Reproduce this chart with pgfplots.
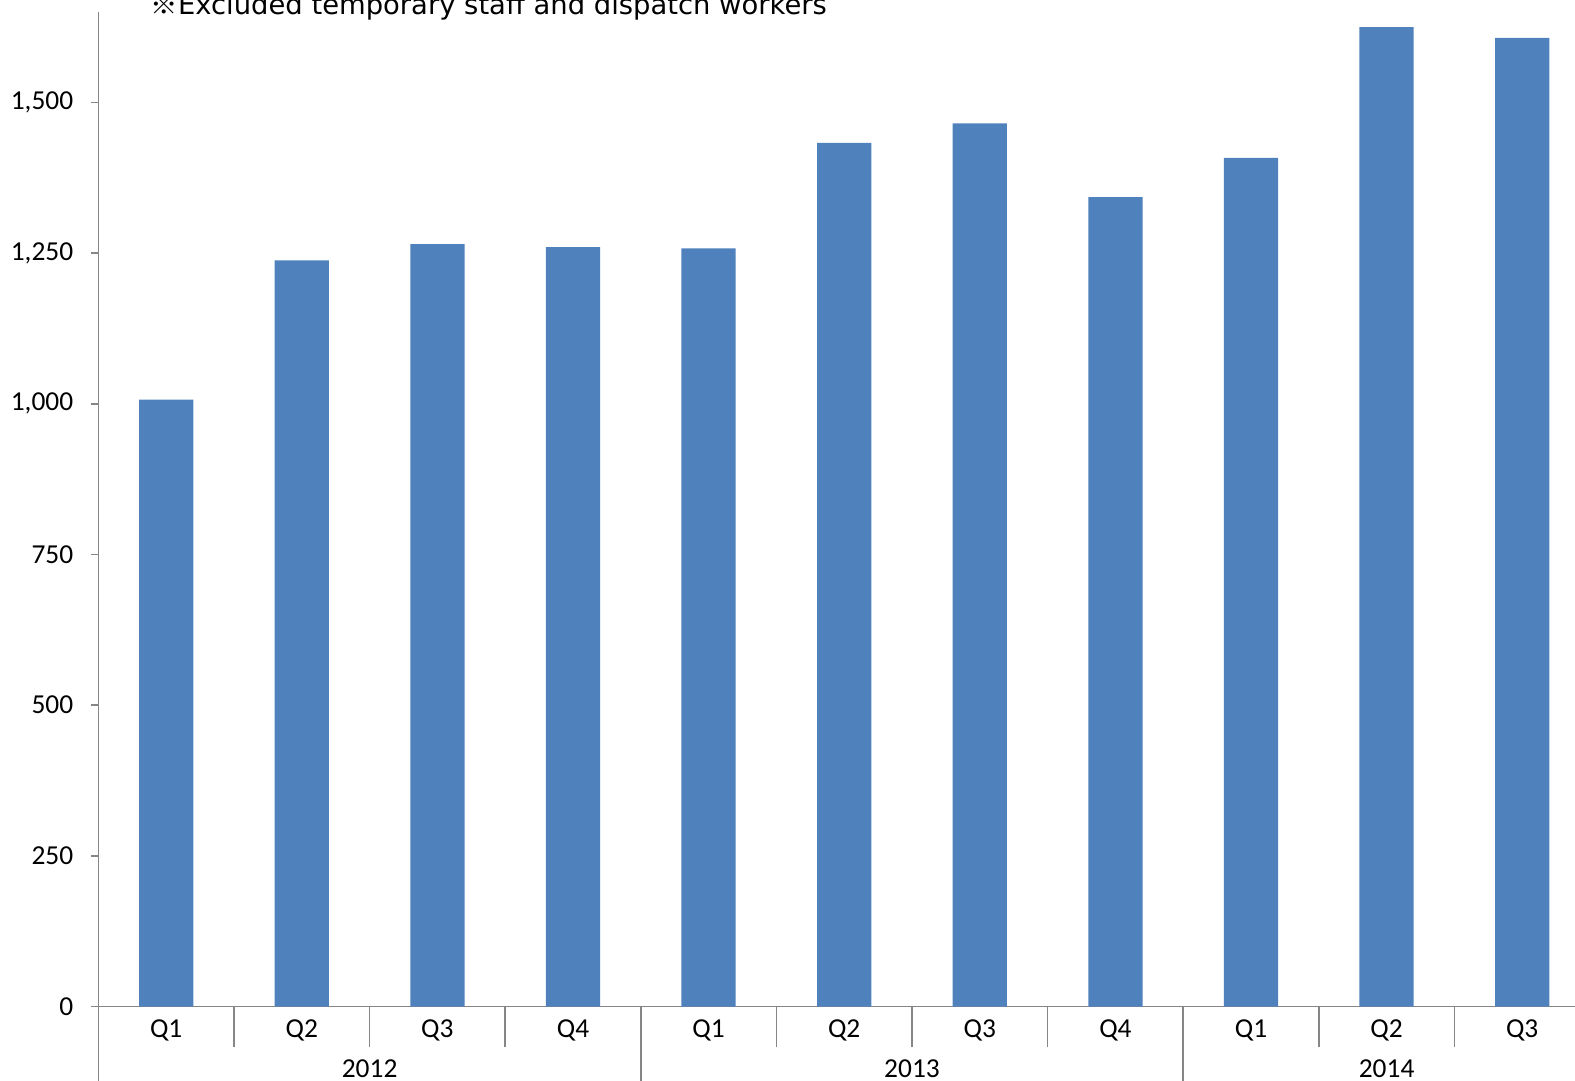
\documentclass[border=0pt]{standalone}
\usepackage{fontspec}
\setmainfont{Carlito}
\newfontfamily\titlefont{DejaVu Sans}
\newfontfamily\cjk{Noto Sans CJK JP}
\usepackage{graphicx}
\usepackage{pgfplots}
\pgfplotsset{compat=1.18}
\definecolor{barblue}{HTML}{4F81BD}
\definecolor{axgray}{HTML}{868686}
\begin{document}
\begin{tikzpicture}
\useasboundingbox (0,0) rectangle (1575bp,1081bp);
\node[anchor=base west, inner sep=0pt] at (150.5bp,1066bp) {\fontsize{27.5}{32}\selectfont{\cjk ※}\titlefont Excluded temporary staff and dispatch workers};
\begin{axis}[
  at={(98.4bp,74.5bp)}, anchor=south west,
  scale only axis, width=1491.6bp, height=994.5bp,
  xmin=-0.5, xmax=10.5, ymin=0, ymax=1650,
  axis lines*=left,
  axis line style={axgray, line width=1.6bp},
  tick style={axgray, line width=1.6bp},
  tick align=outside,
  major tick length=7bp,
  minor tick length=41bp,
  ytick={0,250,...,1500},
  xtick={0,...,10},
  xticklabels={Q1,Q2,Q3,Q4,Q1,Q2,Q3,Q4,Q1,Q2,Q3},
  major x tick style={draw=none},
  minor xtick={0.5,1.5,...,9.5},
  /pgf/number format/1000 sep={,},
  /pgf/number format/assume math mode=true,
  yticklabel style={font=\fontsize{27.5}{32}\selectfont, inner sep=0pt, xshift=-18bp},
  xticklabel style={font=\fontsize{27.5}{32}\selectfont, anchor=center, inner sep=0pt, yshift=-17bp},
  clip=false,
  ybar, bar width=0.4,
]
\addplot[fill=barblue, draw=none] coordinates {
 (0,1007) (1,1238) (2,1265) (3,1260) (4,1258) (5,1433) (6,1465) (7,1343) (8,1408) (9,1625) (10,1607)};
\draw[axgray, line width=1.6bp] (axis cs:-0.5,0) -- ([yshift=-100bp]axis cs:-0.5,0);
\draw[axgray, line width=1.6bp] (axis cs:3.5,0) -- ([yshift=-100bp]axis cs:3.5,0);
\draw[axgray, line width=1.6bp] (axis cs:7.5,0) -- ([yshift=-100bp]axis cs:7.5,0);
\node[font=\fontsize{27.5}{32}\selectfont, inner sep=0pt] at ([yshift=-62bp]axis cs:1.5,0) {2012};
\node[font=\fontsize{27.5}{32}\selectfont, inner sep=0pt] at ([yshift=-62bp]axis cs:5.5,0) {2013};
\node[font=\fontsize{27.5}{32}\selectfont, inner sep=0pt] at ([yshift=-62bp]axis cs:9,0) {2014};
\end{axis}
\end{tikzpicture}
\end{document}
